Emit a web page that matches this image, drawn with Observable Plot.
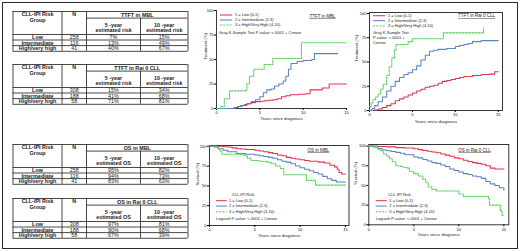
<!DOCTYPE html>
<html><head><meta charset="utf-8">
<script src="https://cdn.jsdelivr.net/npm/d3@7"></script>
<script src="https://cdn.jsdelivr.net/npm/@observablehq/plot@0.6"></script>
<style>
html,body{margin:0;padding:0;background:#fff;}
#wrap{position:relative;width:520px;height:252px;background:#fff;overflow:hidden;}
#frame{position:absolute;left:2px;top:2px;width:516px;height:247px;box-sizing:border-box;border:1px solid #2a2a2a;}
.pane{position:absolute;}
.pane svg{display:block;max-width:none;}
</style></head>
<body><div id="wrap"><div id="frame"></div></div>
<script>
// ---------- table data ----------
const riskGroups = ["Low", "Intermediate", "High/very high"];
const mblN = [258, 116, 41];
const raiN = [308, 188, 58];
const ttftMbl5 = ["7%", "13%", "40%"];
const ttftMbl10 = ["15%", "49%", "67%"];
const ttftRai5 = ["15%", "41%", "71%"];
const ttftRai10 = ["34%", "68%", "81%"];
const osMbl5 = ["95%", "94%", "83%"];
const osMbl10 = ["82%", "73%", "63%"];
const osRai5 = ["97%", "90%", "67%"];
const osRai10 = ["81%", "68%", "39%"];

// ---------- curve data: [years, percent] ----------
const ttftMblLow = [[0,0],[1.8,0],[2.2,1],[2.5,2],[2.8,3],[3.2,4],[3.6,5],[4,6],[4.5,7],[5,7.5],[5.5,8],[6,8.5],[6.5,9],[7,10],[7.5,12],[8,13],[8.5,14],[9.5,14.5],[10.3,15],[10.8,19],[12.2,21],[13,25],[15,25]];
const ttftMblInt = [[0,0],[1.8,0],[2,1],[2.4,2],[3,3],[3.5,5],[4,7],[4.5,9],[5,12],[5.4,16],[5.8,19],[6.3,20],[6.7,23],[7.2,25],[7.7,28],[8,33],[8.3,40],[8.6,46],[9.3,48],[10,49],[11,50],[11.3,56],[14,56]];
const ttftMblHigh = [[0,0],[0.5,2],[0.9,10],[1.5,18],[3.3,18],[3.5,25],[3.8,33],[4.3,40],[5.2,40],[5.5,45],[6.5,51],[9.6,51],[9.8,67],[15,67]];

const ttftRaiLow = [[0,0],[0.5,0.5],[1,1.5],[1.5,3],[2,5],[2.5,7],[3,10],[3.5,12],[4,14],[4.5,16],[5,18],[5.5,20],[6,22],[6.5,24],[7,25],[7.5,26],[8,28],[8.5,30],[9,31],[9.5,32],[10,33],[10.5,34],[11,35],[12,36],[13,37],[14,37.5],[14.6,40],[15,40]];
const ttftRaiInt = [[0,0],[0.3,2],[0.6,5],[1,9],[1.5,14],[2,20],[2.5,25],[3,30],[3.5,34],[4,37],[4.5,39],[5,42],[5.5,46],[6,52],[6.5,57],[7,61],[7.5,62],[8,63],[9,64],[10,66],[10.5,67],[11,68],[11.5,69],[12,71],[13,72],[15,72]];
const ttftRaiHigh = [[0,4],[0.2,8],[0.4,11],[0.7,14],[1,17],[1.3,22],[1.6,27],[2,36],[2.3,45],[2.6,54],[2.9,62],[3.1,68],[4.3,68],[4.5,71],[5,74],[8.5,74],[8.6,80],[13.2,80],[13.3,85]];

const osMblLow = [[0,100],[1,100],[1.5,99.5],[2,99],[2.5,98],[3,97],[3.5,96.5],[4,96],[5,95],[5.5,94],[6,93],[6.5,92],[7,91],[7.5,89],[8,88],[8.5,86],[9,85],[9.5,84],[10,83],[10.5,82],[11,81],[12,80],[12.7,79],[13.3,76],[13.8,74],[14.1,71],[14.3,67],[14.6,65],[15,65]];
const osMblInt = [[0,100],[0.5,99],[1,97],[1.5,95],[2,93],[3,91],[4,90],[5,89],[5.5,88],[6,87],[6.5,86],[7,85],[7.5,83],[8,81],[8.5,80],[9,78],[9.5,75],[10,73],[10.5,71],[11,69],[11.5,67],[12,65],[12.5,62],[13,59],[13.5,57],[14,55],[15,55]];
const osMblHigh = [[0,100],[0.8,98],[1,96],[1.2,93],[1.4,90],[3.5,90],[3.8,88],[4.2,85],[4.6,82],[5.5,81],[6.3,80],[6.8,78],[7.3,75],[7.8,72],[8.2,64],[10.6,64],[10.7,57],[11.6,57],[11.7,51],[15,51]];

const osRaiLow = [[0,100],[1,99.5],[2,99],[3,98],[4,97.5],[5,96.5],[5.5,95.5],[6,94.5],[6.5,93.5],[7,92.5],[7.5,91.5],[8,90],[8.5,88.5],[9,87],[9.5,85],[10,84],[10.5,82],[11,80.5],[11.5,79],[12,78],[12.5,77],[13,75],[13.5,72],[14,71],[15,71]];
const osRaiInt = [[0,100],[0.5,99],[1,97],[1.5,95],[2,94],[2.5,93],[3,92],[3.5,91],[4,89],[5,86],[5.5,85],[6,83],[6.5,81],[7,79],[7.5,78],[8,76],[8.5,74],[9,71],[9.5,69],[10,67],[10.5,65],[11,64],[11.5,62],[12,61],[12.5,59],[13,55],[13.5,52],[14,50],[14.5,47],[15,44]];
const osRaiHigh = [[0,100],[0.5,99],[1,96],[1.3,94],[1.6,90],[2,87],[2.3,84],[2.6,80],[3,75],[3.5,74],[3.8,73],[4.3,72],[4.5,68],[5,65],[5.5,62],[6,58],[6.3,54],[6.6,48],[7,45],[7.5,43],[9.8,43],[10,39],[10.5,36],[13,36],[13.3,33],[13.4,25],[14.5,25],[14.6,18],[14.8,12],[15,12]];

const xTicks = [0, 5, 10, 15];
const yTicks = [0, 25, 50, 75, 100];
const legendLabels = ["1 = Low (0-1)", "2 = Intermediate (2-3)", "3 = High/Very High (4-10)"];
const groupColors = ["#e2334d", "#5a84c2", "#5ccf5c"];
const FONT = "'Liberation Sans', Arial, Helvetica, sans-serif";

const wrap = document.getElementById("wrap");
function place(node, left, top) {
  const d = document.createElement("div");
  d.className = "pane";
  d.style.left = left + "px";
  d.style.top = top + "px";
  d.appendChild(node);
  wrap.appendChild(d);
}

// ---------- tables ----------
const tableCols = [2.5, 51.5, 76, 130, 177.5];
const tableRows = [1, 7.6, 24, 29.5, 35.1, 40.8];
function makeTable(title, what, n, v5, v10) {
  const c = tableCols, r = tableRows;
  const mid = (a, b) => (a + b) / 2;
  const h = [{y: r[0], x1: c[0], x2: c[4]}, {y: r[1], x1: c[2], x2: c[4]}]
    .concat(r.slice(2).map(y => ({y, x1: c[0], x2: c[4]})));
  const v = [c[0], c[1], c[2], c[4]].map(x => ({x, y1: r[0], y2: r[5]}))
    .concat([{x: c[3], y1: r[1], y2: r[5]}]);
  const bold = [
    {x: mid(c[0], c[1]), y: r[0] + 3, t: "CLL-IPI Risk"},
    {x: mid(c[0], c[1]), y: r[0] + 8.7, t: "Group"},
    {x: mid(c[1], c[2]), y: r[0] + 3, t: "N"},
    {x: mid(c[2], c[4]), y: mid(r[0], r[1]), t: title},
    {x: mid(c[2], c[3]), y: r[1] + 7.3, t: "5 -year"},
    {x: mid(c[2], c[3]), y: r[1] + 12, t: "estimated " + what},
    {x: mid(c[3], c[4]), y: r[1] + 7.3, t: "10 -year"},
    {x: mid(c[3], c[4]), y: r[1] + 12, t: "estimated " + what}
  ].concat(riskGroups.map((g, i) => ({x: mid(c[0], c[1]), y: mid(r[2 + i], r[3 + i]), t: g})));
  const normal = [];
  riskGroups.forEach((g, i) => {
    const y = mid(r[2 + i], r[3 + i]);
    normal.push({x: mid(c[1], c[2]), y, t: String(n[i])});
    normal.push({x: mid(c[2], c[3]), y, t: v5[i]});
    normal.push({x: mid(c[3], c[4]), y, t: v10[i]});
  });
  return Plot.plot({
    width: 180, height: 44,
    x: {type: "identity", axis: null}, y: {type: "identity", axis: null},
    style: {background: "none", fontFamily: FONT, overflow: "visible"},
    marks: [
      Plot.ruleY(h, {y: "y", x1: "x1", x2: "x2", stroke: "#333", strokeWidth: 0.9}),
      Plot.ruleX(v, {x: "x", y1: "y1", y2: "y2", stroke: "#333", strokeWidth: 0.9}),
      Plot.text(bold, {x: "x", y: "y", text: "t", fontSize: 5.4, fontWeight: "bold", fill: "#222"}),
      Plot.text(normal, {x: "x", y: "y", text: "t", fontSize: 5.4, fill: "#222"})
    ]
  });
}
place(makeTable("TTFT in MBL", "risk", mblN, ttftMbl5, ttftMbl10), 10, 10);
place(makeTable("TTFT in Rai 0 CLL", "risk", raiN, ttftRai5, ttftRai10), 10, 63.3);
place(makeTable("OS in MBL", "OS", mblN, osMbl5, osMbl10), 10, 143.3);
place(makeTable("OS in Rai 0 CLL", "OS", raiN, osRai5, osRai10), 10, 196.7);

// ---------- charts ----------
function makeChart(c) {
  const marks = [];
  if (c.boxed) marks.push(Plot.frame({stroke: "#222", strokeWidth: 0.9}));
  else {
    marks.push(Plot.ruleX([0], {stroke: "#222", strokeWidth: 0.9}));
    marks.push(Plot.ruleY([0], {stroke: "#222", strokeWidth: 0.9}));
  }
  marks.push(Plot.axisX({ticks: xTicks, tickSize: 2, tickPadding: 1, fontSize: 4, label: null}));
  marks.push(Plot.axisY({ticks: yTicks, tickSize: 2, tickPadding: 1, fontSize: 4, label: null}));
  c.series.forEach((s, i) => {
    const o = {x: d => d[0], y: d => d[1], curve: "step-after", stroke: groupColors[i], strokeWidth: 1.05};
    if (i === 2) o.strokeDasharray = "2,1.2";
    marks.push(Plot.line(s, o));
  });
  marks.push(Plot.text([c.xLabel], {text: d => d, frameAnchor: "bottom", dy: c.xDy, fontSize: 4.4, fill: "#222"}));
  marks.push(Plot.text([c.yLabel], {text: d => d, frameAnchor: "left", dx: c.yDx, rotate: -90, fontSize: 4.2, fill: "#222"}));
  const svg = Plot.plot({
    width: c.w, height: c.h,
    marginLeft: c.m[0], marginRight: c.m[1], marginTop: c.m[2], marginBottom: c.m[3],
    x: {domain: [0, c.xMax]}, y: {domain: [0, c.yMax]},
    style: {background: "none", fontFamily: FONT, overflow: "visible"},
    marks
  });
  // legend overlay (page coords converted to svg coords)
  const g = d3.select(svg).append("g").attr("font-family", FONT).attr("fill", "#222")
    .attr("text-anchor", "start");
  const L = c.leg;
  if (L.head) g.append("text").attr("x", L.head[0] - c.left).attr("y", L.head[1] - c.top)
    .attr("dy", "0.35em").attr("font-size", 4).text("CLL-IPI Risk");
  legendLabels.forEach((lab, i) => {
    const y = L.ys[i] - c.top;
    const ln = g.append("line").attr("x1", L.lx[0] - c.left).attr("x2", L.lx[1] - c.left)
      .attr("y1", y).attr("y2", y).attr("stroke", groupColors[i]).attr("stroke-width", 1.05);
    if (i === 2) ln.attr("stroke-dasharray", "2,1.2");
    g.append("text").attr("x", L.tx - c.left).attr("y", y).attr("dy", "0.35em")
      .attr("font-size", 4).text(lab);
  });
  L.notes.forEach(n => g.append("text").attr("x", n[1] - c.left).attr("y", n[2] - c.top)
    .attr("dy", "0.35em").attr("font-size", 4).text(n[0]));
  g.append("text").attr("x", L.title[1] - c.left).attr("y", L.title[2] - c.top)
    .attr("dy", "0.35em").attr("text-anchor", "middle").attr("font-size", 4.5)
    .style("text-decoration", "underline").text(L.title[0]);
  place(svg, c.left, c.top);
}

makeChart({
  left: 190, top: 0, w: 165, h: 128, m: [26, 9, 10, 20], xMax: 15, yMax: 100, boxed: false,
  series: [ttftMblLow, ttftMblInt, ttftMblHigh],
  xLabel: "Years since diagnosis", yLabel: "Treatment (%)", xDy: 11, yDx: -11,
  leg: {lx: [220, 232], tx: 235, ys: [15, 20, 25],
        notes: [["Gray K-Sample Test P-value: <.0001 + Censor", 219, 32.7]],
        title: ["TTFT in MBL", 322.5, 16]}
});
makeChart({
  left: 343, top: 0, w: 177, h: 128, m: [26, 18, 12, 18], xMax: 15.5, yMax: 101, boxed: true,
  series: [ttftRaiLow, ttftRaiInt, ttftRaiHigh],
  xLabel: "Years since diagnosis", yLabel: "Treatment (%)", xDy: 12.7, yDx: -12.5,
  leg: {lx: [373, 385], tx: 388, ys: [15.7, 20.7, 26],
        notes: [["Gray K-Sample Test", 373, 32.3], ["P-value: <.0001 +", 373, 37.7], ["Censor", 373, 42.7]],
        title: ["TTFT in Rai 0 CLL", 476.5, 15.7]}
});
makeChart({
  left: 183, top: 130, w: 180, h: 122, m: [26, 14.5, 15, 27], xMax: 15.4, yMax: 101, boxed: true,
  series: [osMblLow, osMblInt, osMblHigh],
  xLabel: "Years since diagnosis", yLabel: "Survival (%)", xDy: 11, yDx: -12,
  leg: {head: [231.7, 194.3], lx: [216, 226.7], tx: 229, ys: [200.7, 206, 211.7],
        notes: [["Logrank P-value: <.0001 + Censor", 216, 218.3]],
        title: ["OS in MBL", 318.3, 150]}
});
makeChart({
  left: 343, top: 130, w: 177, h: 122, m: [25.3, 11.7, 14, 27.7], xMax: 15.55, yMax: 102, boxed: true,
  series: [osRaiLow, osRaiInt, osRaiHigh],
  xLabel: "Years since diagnosis", yLabel: "Survival (%)", xDy: 11, yDx: -13.3,
  leg: {head: [388.3, 195], lx: [375.7, 386.7], tx: 389.3, ys: [200.7, 206, 211.7],
        notes: [["Logrank P-value: <.0001 + Censor", 375.7, 218.3]],
        title: ["OS in Rai 0 CLL", 474.5, 150]}
});
</script>
</body></html>
